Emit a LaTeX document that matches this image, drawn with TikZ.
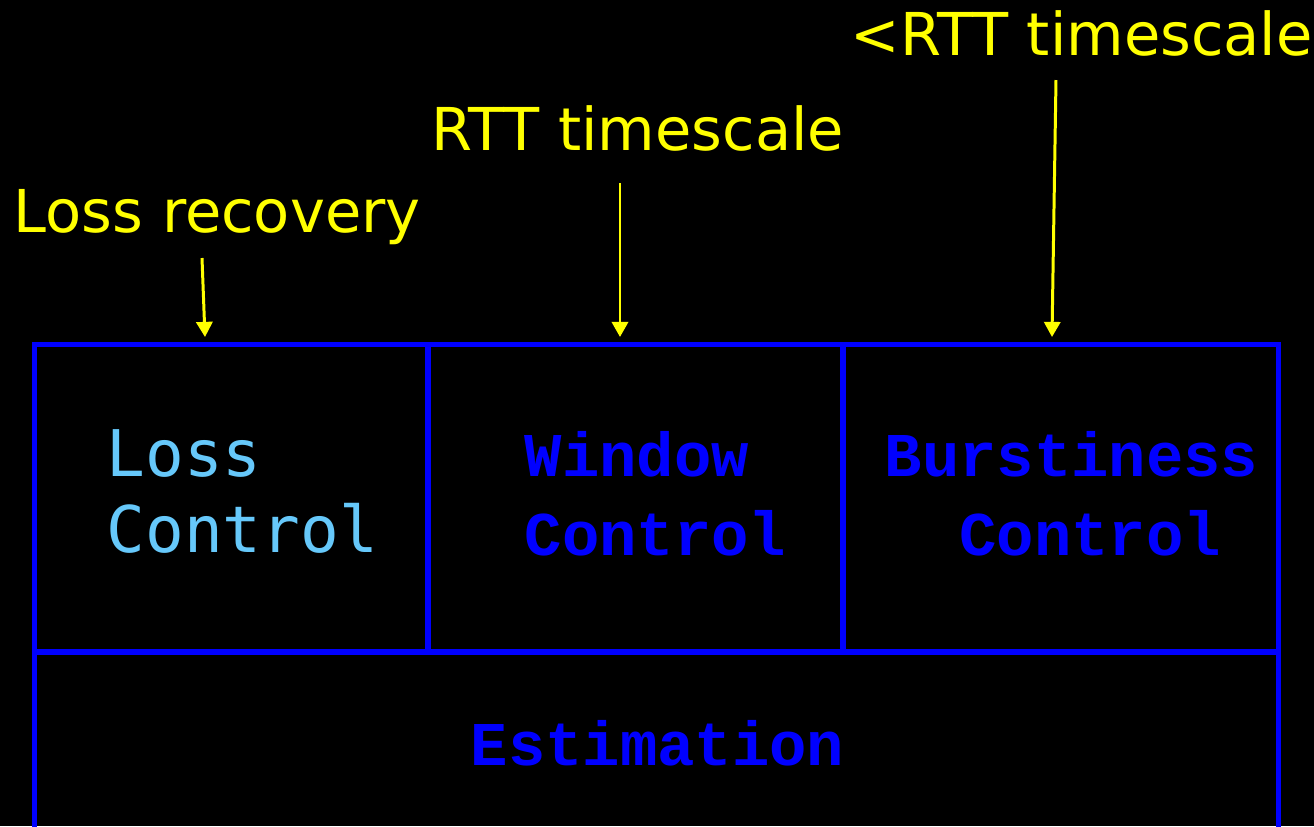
\documentclass[tikz,border=0pt]{standalone}
\usepackage{fontspec}
\setsansfont{DejaVu Sans}
\newfontfamily\lossfont{DejaVu Sans Mono}
\newfontfamily\cellfont{Liberation Mono}
\usetikzlibrary{arrows.meta,positioning}
\definecolor{boxblue}{RGB}{0,0,255}
\definecolor{lossblue}{RGB}{102,200,250}
\definecolor{tagyellow}{RGB}{255,255,0}
\tikzset{
  cell/.style  = {draw=boxblue, line width=1.45pt, rectangle, inner sep=0pt},
  tag/.style   = {text=tagyellow, font=\sffamily\fontsize{16.8}{20}\selectfont,
                  inner sep=0pt, anchor=base west},
  ctext/.style = {text=boxblue, font=\cellfont\bfseries\fontsize{17.7}{22.2}\selectfont,
                  inner sep=0pt, anchor=base west, align=left},
  ltext/.style = {text=lossblue, font=\lossfont\fontsize{18.3}{21.6}\selectfont,
                  inner sep=0pt, anchor=base west, align=left},
  tagarrow/.style = {draw=tagyellow, line width=0.85pt,
                  -{Triangle[width=4.6pt,length=4.3pt]}}
}

\begin{document}
\begin{tikzpicture}[x=0.01cm,y=-0.01cm]
\useasboundingbox (0,0) rectangle (1314,826);
\fill[black] (0,0) rectangle (1314,826);
\clip (0,0) rectangle (1314,826);

% the four blocks
\node[cell, minimum width=3.93cm, minimum height=3.07cm] (loss) at (231.5,498.5) {};
\node[cell, minimum width=4.15cm, minimum height=3.07cm] (window) at (635.5,498.5) {};
\node[cell, minimum width=4.35cm, minimum height=3.07cm] (burst) at (1060.5,498.5) {};
\node[cell, minimum width=12.43cm, minimum height=3cm] (estim) at (656.5,802) {};

% block texts (base = last line)
\node[ltext] (losstxt) at (106,552) {Loss\\Control};
\node[ctext] (windowtxt) at (524,555) {Window\\Control};
\node[ctext] (bursttxt) at (884,555) {Burstiness\\\phantom{Bu}Control};
\node[ctext] (estimtxt) at (470,765) {Estimation};

% timescale tags
\node[tag] (lossrec) at (13,232) {Loss recovery};
\node[tag] (rtt) at (431,150) {RTT timescale};
\node[tag] (subrtt) at (850,55) {<RTT timescale};

\coordinate (lossrec-tail) at (202,258);
\coordinate (rtt-tail) at (620,183);
\coordinate (subrtt-tail) at (1056,80);
\coordinate (lossrec-end) at (205,337);
\coordinate (rtt-end) at (620,337);
\coordinate (subrtt-end) at (1052,337);
\draw[tagarrow] (lossrec-tail) -- (lossrec-end);
\draw[tagarrow] (rtt-tail) -- (rtt-end);
\draw[tagarrow] (subrtt-tail) -- (subrtt-end);
\end{tikzpicture}
\end{document}
